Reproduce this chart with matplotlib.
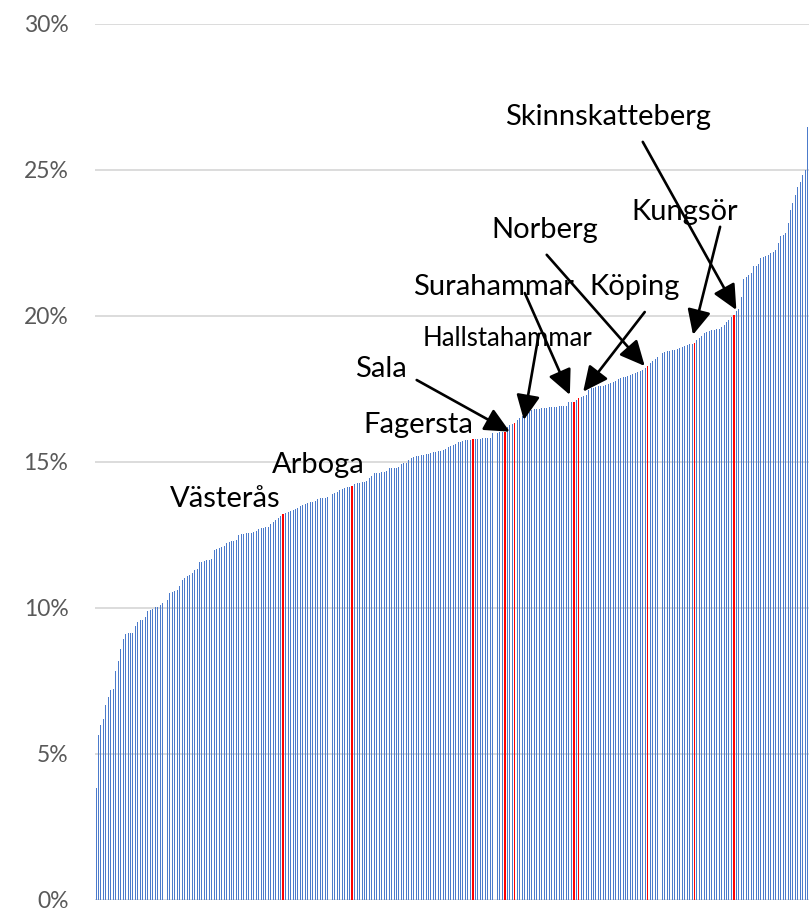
import numpy as np
import matplotlib
matplotlib.use('Agg')
import matplotlib.pyplot as plt

# share per municipality (%), sorted ascending
share = [
    3.81, 5.64, 5.98, 6.17, 6.66, 6.95, 7.18, 7.20, 7.83, 8.17,
    8.60, 8.92, 9.10, 9.12, 9.12, 9.12, 9.38, 9.52, 9.58, 9.58,
    9.67, 9.89, 9.92, 9.96, 10.01, 10.03, 10.10, 10.15, 10.21, 10.26,
    10.51, 10.55, 10.58, 10.62, 10.75, 10.95, 11.00, 11.08, 11.12, 11.20,
    11.28, 11.32, 11.55, 11.58, 11.60, 11.62, 11.65, 11.68, 11.98, 12.02,
    12.05, 12.08, 12.10, 12.22, 12.26, 12.27, 12.30, 12.32, 12.50, 12.53,
    12.54, 12.55, 12.56, 12.57, 12.58, 12.62, 12.70, 12.72, 12.74, 12.76,
    12.78, 12.85, 12.95, 13.02, 13.08, 13.13, 13.21, 13.26, 13.28, 13.32,
    13.35, 13.38, 13.40, 13.49, 13.52, 13.55, 13.58, 13.62, 13.63, 13.65,
    13.72, 13.75, 13.76, 13.77, 13.78, 13.86, 13.90, 13.94, 13.97, 14.03,
    14.06, 14.09, 14.12, 14.15, 14.18, 14.24, 14.26, 14.28, 14.30, 14.31,
    14.33, 14.44, 14.52, 14.60, 14.62, 14.63, 14.64, 14.65, 14.67, 14.77,
    14.78, 14.79, 14.80, 14.82, 14.93, 14.95, 14.97, 15.05, 15.12, 15.15,
    15.18, 15.20, 15.22, 15.24, 15.26, 15.28, 15.30, 15.32, 15.34, 15.36,
    15.38, 15.40, 15.45, 15.50, 15.54, 15.58, 15.62, 15.66, 15.69, 15.72,
    15.73, 15.75, 15.76, 15.77, 15.78, 15.78, 15.79, 15.80, 15.80, 15.81,
    15.82, 15.98, 15.99, 16.00, 16.01, 16.02, 16.03, 16.20, 16.25, 16.30,
    16.33, 16.43, 16.50, 16.55, 16.60, 16.68, 16.72, 16.76, 16.79, 16.81,
    16.82, 16.83, 16.84, 16.85, 16.86, 16.87, 16.88, 16.89, 16.90, 16.90,
    16.91, 16.92, 17.03, 17.05, 17.06, 17.10, 17.18, 17.23, 17.26, 17.29,
    17.45, 17.52, 17.54, 17.56, 17.58, 17.60, 17.61, 17.63, 17.66, 17.69,
    17.74, 17.78, 17.82, 17.86, 17.89, 17.92, 17.94, 17.97, 18.00, 18.04,
    18.08, 18.12, 18.15, 18.20, 18.28, 18.38, 18.45, 18.52, 18.58, 18.63,
    18.72, 18.75, 18.78, 18.80, 18.82, 18.84, 18.86, 18.89, 18.93, 18.97,
    19.00, 19.03, 19.05, 19.08, 19.17, 19.25, 19.32, 19.40, 19.46, 19.49,
    19.51, 19.53, 19.55, 19.56, 19.60, 19.69, 19.78, 19.86, 19.95, 20.03,
    20.18, 20.22, 20.66, 21.25, 21.32, 21.40, 21.46, 21.69, 21.72, 21.76,
    21.97, 22.02, 22.06, 22.10, 22.14, 22.20, 22.26, 22.49, 22.72, 22.78,
    22.85, 23.19, 23.63, 23.86, 24.14, 24.40, 24.60, 24.83, 25.00, 26.48,
]

highlight_names = ['Västerås', 'Arboga', 'Fagersta', 'Sala', 'Hallstahammar',
                   'Surahammar', 'Köping', 'Norberg', 'Kungsör', 'Skinnskatteberg']
highlight_idx = [76, 104, 153, 166, 170, 194, 196, 224, 243, 259]

y_ticks = [0, 5, 10, 15, 20, 25, 30]

# label placement: text (x, y), font size, arrow start, arrow tip offset from bar top
labels = {
    'Västerås':        ((30.0, 13.46), 21, None, None),
    'Arboga':          ((71.4, 14.61), 21, None, None),
    'Fagersta':        ((108.4, 15.98), 21, None, None),
    'Sala':            ((105.1, 17.90), 21, (130.2, 17.80), (2.0, 0.0)),
    'Hallstahammar':   ((132.7, 18.95), 18.5, (179.8, 19.38), (3.7, 0.1)),
    'Surahammar':      ((128.7, 20.72), 21, (174.1, 20.78), (-1.6, 0.23)),
    'Köping':          ((200.5, 20.72), 21, (222.8, 20.13), (1.8, 0.22)),
    'Norberg':         ((160.7, 22.67), 21, (183.0, 22.09), (-1.2, 0.0)),
    'Kungsör':         ((217.5, 23.29), 21, (253.4, 23.05), (-0.6, 0.27)),
    'Skinnskatteberg': ((166.0, 26.54), 21, (222.0, 25.96), (1.0, 0.17)),
}

plt.rcParams['font.family'] = ['Lato', 'DejaVu Sans']

n = len(share)
x = np.arange(n)
is_red = np.zeros(n, dtype=bool)
is_red[highlight_idx] = True
vals = np.array(share)

fig = plt.figure(figsize=(8.09, 9.11), dpi=100)
ax = fig.add_axes([0.1172, 0.01262, 0.8828, 0.96108])

ax.bar(x[~is_red], vals[~is_red], width=0.4, color='#4C7BCB', linewidth=0, zorder=2)
ax.bar(x[is_red], vals[is_red], width=0.6, color='#FF0000', linewidth=0, zorder=3)

ax.set_xlim(-0.5, n - 0.5)
ax.set_ylim(0, 30)
ax.set_yticks(y_ticks)
ax.set_yticklabels([f'{t}%' for t in y_ticks])
ax.set_xticks([])
ax.tick_params(axis='y', length=0, pad=19, labelsize=16.5, labelcolor='#595959')
for s in ax.spines.values():
    s.set_visible(False)
ax.yaxis.grid(True, color='#D9D9D9', linewidth=1.3, zorder=0)
ax.set_axisbelow(True)

for name, idx in zip(highlight_names, highlight_idx):
    (tx, ty), size, start, tip = labels[name]
    ax.text(tx, ty, name, fontsize=size, color='black', ha='left', va='baseline', zorder=5)
    if start is not None:
        ax.annotate('', xy=(idx + tip[0], share[idx] + tip[1]), xytext=start,
                    arrowprops=dict(arrowstyle='-|>,head_length=0.8,head_width=0.38',
                                    color='black', lw=1.9, mutation_scale=19,
                                    shrinkA=0, shrinkB=0),
                    zorder=6)

fig.savefig('out.png', dpi=100)
